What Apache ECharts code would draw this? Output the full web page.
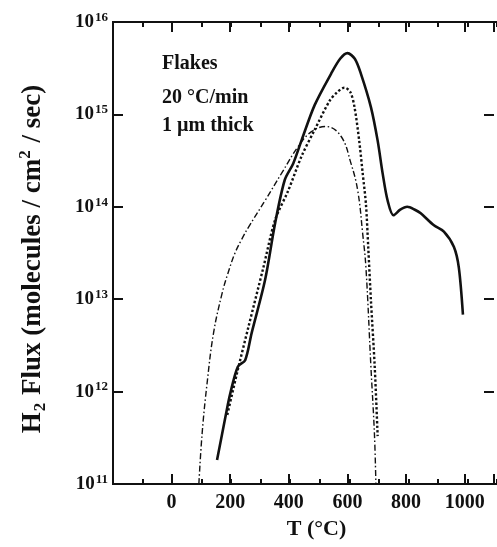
<!DOCTYPE html>
<html>
<head>
<meta charset="utf-8">
<script src="https://cdn.jsdelivr.net/npm/echarts@6/dist/echarts.min.js"></script>
<style>
  html, body { margin: 0; padding: 0; background: #fff; }
  #chart { width: 497px; height: 547px; }
</style>
</head>
<body>
<div id="chart"></div>
<script>
// Temperature (°C) and H2 flux (molecules / cm^2 / sec) for each curve
const solidT    = [155, 185, 200, 226, 251, 273, 319, 353, 386, 415, 443, 488, 544, 575, 600, 625, 646, 680, 703, 720, 737, 757, 780, 804, 830, 850, 895, 929, 963, 980, 994];
const solidFlux = [1.82e11, 5.6e11, 9.5e11, 1.86e12, 2.19e12, 4.3e12, 1.62e13, 6.6e13, 1.95e14, 2.95e14, 5.2e14, 1.26e15, 2.75e15, 4.0e15, 4.6e15, 4.0e15, 2.75e15, 1.2e15, 5.2e14, 2.3e14, 1.17e14, 8.1e13, 9.3e13, 1.0e14, 9.3e13, 8.5e13, 6.3e13, 5.4e13, 3.7e13, 2.2e13, 6.8e12];

const dottedT    = [190, 223, 262, 313, 353, 398, 443, 488, 539, 565, 590, 610, 624, 640, 652, 663, 671, 680, 693, 703];
const dottedFlux = [5.6e11, 1.58e12, 5.0e12, 2.2e13, 7.2e13, 1.5e14, 3.5e14, 6.8e14, 1.4e15, 1.74e15, 1.95e15, 1.74e15, 1.2e15, 5.2e14, 2.3e14, 1.07e14, 3.6e13, 9.8e12, 1.86e12, 3.3e11];

const dashDotT    = [93, 104, 121, 143, 172, 192, 217, 240, 262, 319, 375, 432, 477, 527, 578, 612, 635, 652, 663, 680, 692, 697];
const dashDotFlux = [1.0e11, 3.5e11, 1.23e12, 4.3e12, 1.15e13, 1.9e13, 3.2e13, 4.5e13, 6.0e13, 1.17e14, 2.3e14, 4.5e14, 6.5e14, 7.4e14, 5.8e14, 2.95e14, 1.5e14, 5.1e13, 2.2e13, 1.86e12, 3.5e11, 1.0e11];

// Axis tick labels
const xTickLabels = [0, 200, 400, 600, 800, 1000];
const yTickExponents = [11, 12, 13, 14, 15, 16];

// Annotation lines
const noteLines = ['Flakes', '20 °C/min', '1 µm thick'];

const pairs = (xs, ys) => xs.map((x, i) => [x, ys[i]]);
const FONT = "'Liberation Serif', 'Times New Roman', serif";
const INK = '#111';

const grid = { left: 113, top: 22, right: 0, bottom: 63 };

function xAxisBase(gridIndex, position, interval, tickLen) {
  return {
    gridIndex, position, type: 'value', min: -200, max: 1100, interval,
    axisLine: { show: true, onZero: false, lineStyle: { color: INK, width: 2 } },
    axisTick: { show: true, inside: true, length: tickLen, lineStyle: { color: INK, width: 2 } },
    axisLabel: { show: false },
    splitLine: { show: false }
  };
}

function yLogBase(position) {
  return {
    gridIndex: 0, type: 'log', logBase: 10, min: 1e11, max: 1e16, splitNumber: 5, position,
    axisLine: { show: true, onZero: false, lineStyle: { color: INK, width: 2 } },
    axisTick: { show: true, inside: true, length: 10, lineStyle: { color: INK, width: 2 } },
    axisLabel: { show: false },
    splitLine: { show: false }
  };
}

const bottomMajor = xAxisBase(0, 'bottom', 200, 10);
bottomMajor.axisLabel = {
  show: true, margin: 9, color: INK, fontFamily: FONT, fontWeight: 'bold', fontSize: 20,
  formatter: v => xTickLabels.includes(v) ? String(v) : ''
};
bottomMajor.name = 'T (°C)';
bottomMajor.nameLocation = 'middle';
bottomMajor.nameGap = 26;
bottomMajor.nameTextStyle = { color: INK, fontFamily: FONT, fontWeight: 'bold', fontSize: 22, padding: [0, 0, 0, 26] };

const leftY = yLogBase('left');
leftY.axisLabel = {
  show: true, margin: 5, color: INK,
  formatter: v => {
    const e = Math.round(Math.log10(v));
    return yTickExponents.includes(e) ? '{b|10}{s|' + e + '}' : '';
  },
  rich: {
    b: { fontFamily: FONT, fontWeight: 'bold', fontSize: 19, color: INK, lineHeight: 22 },
    s: { fontFamily: FONT, fontWeight: 'bold', fontSize: 13, color: INK, verticalAlign: 'top', lineHeight: 22, padding: [0, 0, 9, 1] }
  }
};
leftY.name = '{b|H}{sub|2}{b| Flux (molecules / cm}{sup|2}{b| / sec)}';
leftY.nameLocation = 'middle';
leftY.nameRotate = 90;
leftY.nameGap = 64;
leftY.nameTextStyle = {
  color: INK,
  padding: [0, 12, 0, 0],
  rich: {
    b: { fontFamily: FONT, fontWeight: 'bold', fontSize: 27, color: INK, lineHeight: 32 },
    sub: { fontFamily: FONT, fontWeight: 'bold', fontSize: 17, color: INK, verticalAlign: 'bottom', lineHeight: 32, padding: [10, 1, 0, 1] },
    sup: { fontFamily: FONT, fontWeight: 'bold', fontSize: 17, color: INK, verticalAlign: 'top', lineHeight: 32, padding: [0, 1, 12, 0] }
  }
};

// Right frame edge sits at the canvas border: keep its ticks, drop its line
const rightY = yLogBase('right');
rightY.axisLine.show = false;

const option = {
  animation: false,
  backgroundColor: '#fff',
  grid: [grid, Object.assign({}, grid)],
  xAxis: [
    bottomMajor,
    xAxisBase(0, 'top', 200, 10),
    xAxisBase(1, 'bottom', 100, 5),
    xAxisBase(1, 'top', 100, 5)
  ],
  yAxis: [
    leftY,
    rightY,
    { gridIndex: 1, type: 'value', show: false }
  ],
  series: [
    {
      type: 'line', xAxisIndex: 0, yAxisIndex: 0, data: pairs(solidT, solidFlux),
      showSymbol: false, smooth: 0.3, lineStyle: { color: INK, width: 2.6, type: 'solid' }
    },
    {
      type: 'line', xAxisIndex: 0, yAxisIndex: 0, data: pairs(dottedT, dottedFlux),
      showSymbol: false, smooth: 0.3, lineStyle: { color: INK, width: 2.4, type: [2.4, 2.2] }
    },
    {
      type: 'line', xAxisIndex: 0, yAxisIndex: 0, data: pairs(dashDotT, dashDotFlux),
      showSymbol: false, smooth: 0.4, lineStyle: { color: INK, width: 1.4, type: [6, 2.5, 1.5, 2.5] }
    }
  ],
  graphic: [
    { type: 'text', left: 162, top: 54, style: { text: noteLines[0], fontFamily: FONT, fontWeight: 'bold', fontSize: 20, fill: INK } },
    { type: 'text', left: 162, top: 88, style: { text: noteLines[1], fontFamily: FONT, fontWeight: 'bold', fontSize: 20, fill: INK } },
    { type: 'text', left: 162, top: 116, style: { text: noteLines[2], fontFamily: FONT, fontWeight: 'bold', fontSize: 20, fill: INK } }
  ]
};

const chart = echarts.init(document.getElementById('chart'), null, { renderer: 'canvas' });
chart.setOption(option);
</script>
</body>
</html>
